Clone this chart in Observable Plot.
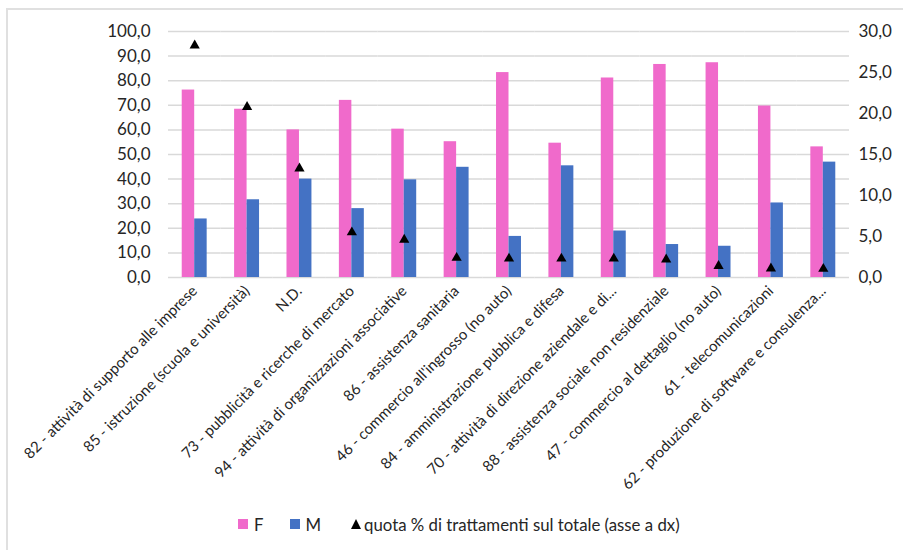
<!DOCTYPE html>
<html><head><meta charset="utf-8">
<script src="https://cdn.jsdelivr.net/npm/d3@7"></script>
<script src="https://cdn.jsdelivr.net/npm/@observablehq/plot@0.6"></script>
<style>
body{margin:0;background:#fff;overflow:hidden;width:903px;height:550px;position:relative;font-family:Lato,"Open Sans",sans-serif;color:#262626}
#frame{position:absolute;left:6px;top:8px;width:1000px;height:1000px;border:2px solid #e0e0e0;box-sizing:border-box}
#chart{position:absolute;left:0;top:0}
#legend{position:absolute;top:513px;left:238px;height:22px;display:flex;align-items:center;font-size:16.8px;white-space:nowrap}
#legend .sw{display:inline-block;width:10px;height:10px;margin-right:6px}
#legend .it{display:flex;align-items:center}
#legend .it0{margin-right:26px}
#legend .it1{margin-right:30px}
#legend .tri{width:0;height:0;border-left:5px solid transparent;border-right:5px solid transparent;border-bottom:10px solid #000;margin-right:3px}
</style></head>
<body>
<div id="frame"></div>
<div id="chart"></div>
<div id="legend"></div>
<script>
const categories = [
  "82 - attività di supporto alle imprese",
  "85 - istruzione (scuola e università)",
  "N.D.",
  "73 - pubblicità e ricerche di mercato",
  "94 - attività di organizzazioni associative",
  "86 - assistenza sanitaria",
  "46 - commercio all'ingrosso (no auto)",
  "84 - amministrazione pubblica e difesa",
  "70 - attività di direzione aziendale e di...",
  "88 - assistenza sociale non residenziale",
  "47 - commercio al dettaglio (no auto)",
  "61 - telecomunicazioni",
  "62 - produzione di software e consulenza..."
];
const femmine = [76.2, 68.4, 60.0, 72.0, 60.3, 55.2, 83.3, 54.6, 81.1, 86.6, 87.3, 69.7, 53.1];
const maschi  = [23.8, 31.6, 40.0, 28.0, 39.7, 44.8, 16.7, 45.4, 18.9, 13.4, 12.7, 30.3, 46.9];
const quota   = [28.3, 20.8, 13.3, 5.5, 4.6, 2.4, 2.3, 2.3, 2.3, 2.2, 1.4, 1.1, 1.05];
const seriesNames = ["F", "M"];
const seriesColors = ["#F06ACB", "#4472C4"];
const quotaLabel = "quota % di trattamenti sul totale (asse a dx)";
const leftTicks = [0, 10, 20, 30, 40, 50, 60, 70, 80, 90, 100];
const rightTicks = [0, 5, 10, 15, 20, 25, 30];

const k = 100 / 30;
const fmt = d => d.toFixed(1).replace(".", ",");
const rows = categories.flatMap((c, i) => [
  {cat: c, sesso: "F", v: femmine[i]},
  {cat: c, sesso: "M", v: maschi[i]}
]);
const quotaRows = categories.map((c, i) => ({cat: c, q: quota[i]}));

const chart = Plot.plot({
  width: 903, height: 505,
  marginLeft: 168, marginRight: 54, marginTop: 31, marginBottom: 228,
  style: {fontFamily: 'Lato, "Open Sans", sans-serif', fontSize: "15px", color: "#262626", background: "transparent"},
  fx: {domain: categories, padding: 0, round: false, label: null},
  x: {domain: seriesNames, paddingInner: 0, paddingOuter: 1.1, round: false, axis: null},
  y: {domain: [0, 100], label: null, axis: null},
  color: {domain: seriesNames, range: seriesColors},
  marks: [
    Plot.gridY(leftTicks, {stroke: "#d9d9d9", strokeOpacity: 1, strokeWidth: 1.5}),
    Plot.axisY(leftTicks, {anchor: "left", tickSize: 0, tickPadding: 18, tickFormat: fmt, fontSize: 17}),
    Plot.axisY(rightTicks.map(t => t * k), {anchor: "right", tickSize: 0, tickPadding: 9, tickFormat: d => fmt(d / k), fontSize: 17}),
    Plot.axisFx({anchor: "bottom", tickRotate: -45, tickSize: 0, tickPadding: 11, fontSize: 15, label: null}),
    Plot.barY(rows, {fx: "cat", x: "sesso", y: "v", fill: "sesso"}),
    Plot.dot(quotaRows, {fx: "cat", y: d => d.q * k, symbol: "triangle", fill: "#000", stroke: null, r: 3.8})
  ]
});
document.getElementById("chart").appendChild(chart);

const lg = document.getElementById("legend");
seriesNames.forEach((n, i) => {
  const it = document.createElement("span"); it.className = "it it" + i;
  const sw = document.createElement("span"); sw.className = "sw"; sw.style.background = seriesColors[i];
  it.appendChild(sw); it.appendChild(document.createTextNode(n)); lg.appendChild(it);
});
const it3 = document.createElement("span"); it3.className = "it";
const tri = document.createElement("span"); tri.className = "tri";
it3.appendChild(tri); it3.appendChild(document.createTextNode(quotaLabel)); lg.appendChild(it3);
</script>
</body></html>
